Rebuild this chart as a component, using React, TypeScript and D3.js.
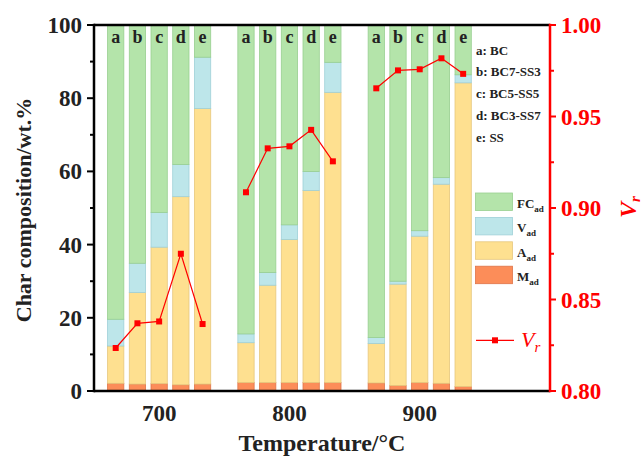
import React from "react";
import * as d3 from "d3";

const temps = [700, 800, 900];
const samples = ["a", "b", "c", "d", "e"];
const sampleNames = ["BC", "BC7-SS3", "BC5-SS5", "BC3-SS7", "SS"];
const M_ad = [
  [2.1, 1.9, 2.0, 1.7, 1.9],
  [2.3, 2.3, 2.3, 2.3, 2.3],
  [2.2, 1.5, 2.3, 2.1, 1.2],
];
const A_ad = [
  [10.2, 25.0, 37.3, 51.4, 75.3],
  [10.9, 26.6, 39.1, 52.5, 79.3],
  [10.8, 27.7, 40.0, 54.4, 83.0],
];
const V_ad = [
  [7.3, 8.0, 9.5, 8.8, 14.0],
  [2.4, 3.5, 4.0, 5.2, 8.2],
  [1.6, 0.8, 1.5, 1.8, 2.2],
];
const FC_ad = [
  [80.4, 65.1, 51.2, 38.1, 8.8],
  [84.4, 67.6, 54.6, 40.0, 10.2],
  [85.4, 70.0, 56.2, 41.7, 13.6],
];
const Vr = [
  [0.8235, 0.837, 0.838, 0.875, 0.8366],
  [0.9086, 0.9326, 0.9337, 0.9427, 0.9255],
  [0.9654, 0.9752, 0.9758, 0.9818, 0.9733],
];
const leftTicks = [0, 20, 40, 60, 80, 100];
const rightTicks = [0.8, 0.85, 0.9, 0.95, 1.0];

const keys = ["M", "A", "V", "FC"];
const fills: Record<string, string> = { M: "#fc8d59", A: "#fee090", V: "#bde6ea", FC: "#b4e4aa" };
const strokes: Record<string, string> = { M: "#de7448", A: "#e6c77e", V: "#9fd0d8", FC: "#98cf90" };

const FONT = "'Liberation Serif', 'Times New Roman', serif";

export default function App() {
  const W = 643, H = 457;
  const L = 94, R = 550, T = 25, B = 391;
  const x = d3.scaleLinear().domain([650, 1000]).range([L, R]);
  const y = d3.scaleLinear().domain([0, 100]).range([B, T]);
  const yR = d3.scaleLinear().domain([0.8, 1.0]).range([B, T]);
  const step = 16.67;
  const barW = 12.5;

  const rows: any[] = [];
  temps.forEach((t, gi) => {
    samples.forEach((s, si) => {
      rows.push({
        t, gi, si, s,
        M: M_ad[gi][si], A: A_ad[gi][si], V: V_ad[gi][si], FC: FC_ad[gi][si],
        vr: Vr[gi][si],
        xc: t + (si - 2) * step,
      });
    });
  });
  const stacked = d3.stack().keys(keys)(rows as any);
  const bw = x(barW) - x(0);

  const line = d3.line<any>().x((d) => x(d.xc)).y((d) => yR(d.vr));

  const minorLeft = d3.range(10, 100, 20);
  const minorRight = [0.825, 0.875, 0.925, 0.975];

  const legendItems = [
    { k: "FC", main: "FC", sub: "ad" },
    { k: "V", main: "V", sub: "ad" },
    { k: "A", main: "A", sub: "ad" },
    { k: "M", main: "M", sub: "ad" },
  ];

  return (
    <svg width={W} height={H} style={{ position: "absolute", left: 0, top: 0 }} fontFamily={FONT}>
      <rect width={W} height={H} fill="#fff" />
      {stacked.map((layer: any) => (
        <g key={layer.key}>
          {layer.map((d: any, i: number) => (
            <rect
              key={i}
              x={x(d.data.xc) - bw / 2}
              y={y(d[1])}
              width={bw}
              height={Math.max(0, y(d[0]) - y(d[1]))}
              fill={fills[layer.key]}
              stroke={strokes[layer.key]}
              strokeWidth={0.8}
            />
          ))}
        </g>
      ))}
      {rows.map((d, i) => (
        <text key={i} x={x(d.xc)} y={43} textAnchor="middle" fontSize={18} fontWeight="bold" fill="#222">
          {d.s}
        </text>
      ))}
      {temps.map((t, gi) => (
        <g key={gi}>
          <path d={line(rows.filter((r) => r.gi === gi)) || ""} fill="none" stroke="#ff0000" strokeWidth={1.2} />
          {rows.filter((r) => r.gi === gi).map((d, i) => (
            <rect key={i} x={x(d.xc) - 3} y={yR(d.vr) - 3} width={6} height={6} fill="#ff0000" />
          ))}
        </g>
      ))}
      {/* frame */}
      <line x1={L} x2={R} y1={T} y2={T} stroke="#000" strokeWidth={2.5} />
      <line x1={L} x2={R} y1={B} y2={B} stroke="#000" strokeWidth={2.5} />
      <line x1={L} x2={L} y1={T - 1.25} y2={B + 1.25} stroke="#000" strokeWidth={2.5} />
      <line x1={R} x2={R} y1={T - 1.25} y2={B + 1.25} stroke="#ff0000" strokeWidth={2.5} />
      {/* left ticks */}
      {leftTicks.map((v) => (
        <g key={v}>
          <line x1={L - 7} x2={L} y1={y(v)} y2={y(v)} stroke="#000" strokeWidth={2} />
          <text x={L - 12} y={y(v) + 8} textAnchor="end" fontSize={23} fontWeight="bold" fill="#222">
            {v}
          </text>
        </g>
      ))}
      {minorLeft.map((v) => (
        <line key={v} x1={L - 4} x2={L} y1={y(v)} y2={y(v)} stroke="#000" strokeWidth={2} />
      ))}
      {/* right ticks */}
      {rightTicks.map((v) => (
        <g key={v}>
          <line x1={R} x2={R + 6} y1={yR(v)} y2={yR(v)} stroke="#ff0000" strokeWidth={2} />
          <text x={R + 11} y={yR(v) + 8} textAnchor="start" fontSize={23} fontWeight="bold" fill="#ff0000">
            {v.toFixed(2)}
          </text>
        </g>
      ))}
      {minorRight.map((v) => (
        <line key={v} x1={R} x2={R + 4} y1={yR(v)} y2={yR(v)} stroke="#ff0000" strokeWidth={2} />
      ))}
      {/* x tick labels */}
      {temps.map((t) => (
        <text key={t} x={x(t)} y={421} textAnchor="middle" fontSize={23} fontWeight="bold" fill="#222">
          {t}
        </text>
      ))}
      {/* axis titles */}
      <text x={322} y={451} textAnchor="middle" fontSize={24} fontWeight="bold" fill="#222">
        Temperature/°C
      </text>
      <text transform="translate(31,210) rotate(-90)" textAnchor="middle" fontSize={22} fontWeight="bold" fill="#222">
        Char composition/wt.%
      </text>
      <text transform="translate(636,207) rotate(-90)" textAnchor="middle" fontSize={24} fontStyle="italic" fontWeight="bold" fill="#ff0000">
        V<tspan fontSize={15} dy={4}>r</tspan>
      </text>
      {/* sample legend */}
      {samples.map((s, i) => (
        <text key={s} x={476} y={54.5 + i * 21.8} fontSize={13} fontWeight="bold" fill="#222">
          {s}: {sampleNames[i]}
        </text>
      ))}
      {/* composition legend */}
      {legendItems.map((it, i) => (
        <g key={it.k}>
          <rect x={475.5} y={193 + i * 24.4} width={37} height={17.5} fill={fills[it.k]} stroke={strokes[it.k]} strokeWidth={0.8} />
          <text x={517} y={208 + i * 24.4} fontSize={13} fontWeight="bold" fill="#222">
            {it.main}
            <tspan fontSize={9} dy={4}>{it.sub}</tspan>
          </text>
        </g>
      ))}
      {/* Vr legend */}
      <line x1={476} x2={514} y1={340.3} y2={340.3} stroke="#ff0000" strokeWidth={1.2} />
      <rect x={492} y={337.3} width={6} height={6} fill="#ff0000" />
      <text x={521} y={347} fontSize={22} fontStyle="italic" fill="#ff0000">
        V<tspan fontSize={15} dy={5}>r</tspan>
      </text>
    </svg>
  );
}
